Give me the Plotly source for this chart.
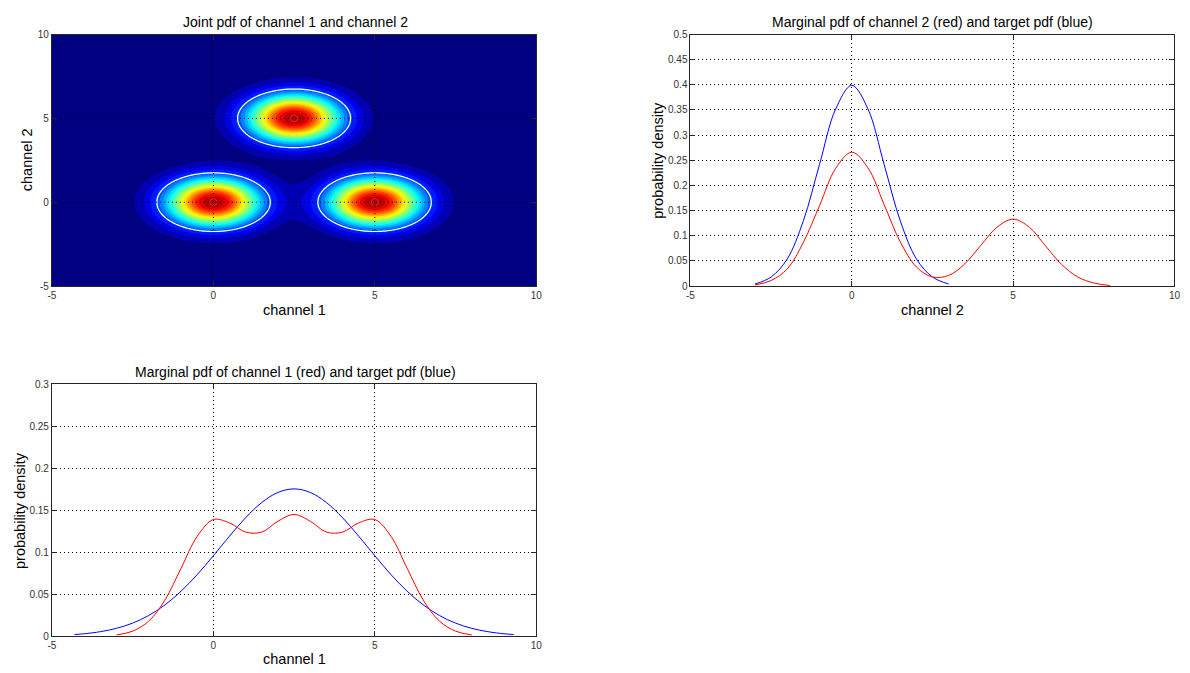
import numpy as np
import plotly.graph_objects as go

# ---------------- data ----------------
# joint pdf: three round bumps (centres, spread, weight)
comp_ch1 = [0.0, 5.0, 2.5]
comp_ch2 = [0.0, 0.0, 5.0]
comp_sd = [1.0, 1.0, 1.0]
comp_weight = [1 / 3, 1 / 3, 1 / 3]
n_bands = 20
white_level = 0.0115

# marginal pdf of channel 2 (red) and target (blue)
ch2_x = [-3.0, -2.5, -2.0, -1.5, -1.0, -0.5, 0.0, 0.5, 1.0, 1.5, 2.0, 2.5,
         3.0, 3.5, 4.0, 4.5, 5.0, 5.5, 6.0, 6.5, 7.0, 7.5, 8.0]
ch2_marg = [0.002, 0.011, 0.034, 0.087, 0.160, 0.234, 0.266, 0.235, 0.162, 0.088,
            0.038, 0.018, 0.021, 0.044, 0.081, 0.117, 0.133, 0.117, 0.080, 0.043,
            0.018, 0.006, 0.001]
ch2_tx = [-3.0, -2.5, -2.0, -1.5, -1.0, -0.5, 0.0, 0.5, 1.0, 1.5, 2.0, 2.5, 3.0]
ch2_target = [0.004, 0.018, 0.054, 0.130, 0.242, 0.352, 0.399, 0.352, 0.242,
              0.130, 0.054, 0.018, 0.004]

# marginal pdf of channel 1 (red) and target (blue)
ch1_x = [-3.0, -2.5, -2.0, -1.5, -1.0, -0.5, 0.0, 0.5, 1.0, 1.5, 2.0, 2.5,
         3.0, 3.5, 4.0, 4.5, 5.0, 5.5, 6.0, 6.5, 7.0, 7.5, 8.0]
ch1_marg = [0.0015, 0.006, 0.018, 0.043, 0.081, 0.119, 0.139, 0.135, 0.124, 0.124,
            0.137, 0.145, 0.137, 0.124, 0.124, 0.135, 0.139, 0.119, 0.081, 0.043,
            0.018, 0.006, 0.0015]
ch1_tx = [-4.3, -4.0, -3.5, -3.0, -2.5, -2.0, -1.5, -1.0, -0.5, 0.0, 0.5, 1.0,
          1.5, 2.0, 2.5, 3.0, 3.5, 4.0, 4.5, 5.0, 5.5, 6.0, 6.5, 7.0, 7.5, 8.0,
          8.5, 9.0, 9.3]
ch1_target = [0.002, 0.0029, 0.0054, 0.0094, 0.0156, 0.0247, 0.0373, 0.0536,
              0.0734, 0.0959, 0.1192, 0.1412, 0.1593, 0.1713, 0.1755, 0.1713,
              0.1593, 0.1412, 0.1192, 0.0959, 0.0734, 0.0536, 0.0373, 0.0247,
              0.0156, 0.0094, 0.0054, 0.0029, 0.002]

# ticks
xy_ticks = [-5, 0, 5, 10]
xy_labels = ["-5", "0", "5", "10"]
p2_yticks = [0, 0.05, 0.1, 0.15, 0.2, 0.25, 0.3, 0.35, 0.4, 0.45, 0.5]
p2_ylabels = ["0", "0.05", "0.1", "0.15", "0.2", "0.25", "0.3", "0.35", "0.4", "0.45", "0.5"]
p3_yticks = [0, 0.05, 0.1, 0.15, 0.2, 0.25, 0.3]
p3_ylabels = ["0", "0.05", "0.1", "0.15", "0.2", "0.25", "0.3"]

titles = ["Joint pdf of channel 1 and channel 2",
          "Marginal pdf of channel 2 (red) and target pdf (blue)",
          "Marginal pdf of channel 1 (red) and target pdf (blue)"]

# ---------------- build joint density grid ----------------
g = np.arange(-5.0, 10.0001, 0.05)
GX, GY = np.meshgrid(g, g)
Z = np.zeros_like(GX)
for cx, cy, sd, w in zip(comp_ch1, comp_ch2, comp_sd, comp_weight):
    Z += w / (2 * np.pi * sd * sd) * np.exp(-((GX - cx) ** 2 + (GY - cy) ** 2) / (2 * sd * sd))
zmax = float(Z.max())
step = zmax / n_bands


def jet(t):
    r = np.clip(1.5 - abs(4 * t - 3), 0, 1)
    gg = np.clip(1.5 - abs(4 * t - 2), 0, 1)
    b = np.clip(1.5 - abs(4 * t - 1), 0, 1)
    return "rgb(%d,%d,%d)" % (round(r * 255), round(gg * 255), round(b * 255))


# one colour per band: band k gets jet(k / n_bands), like MATLAB contourf
jet_scale = [[k / (n_bands - 1), jet(k / n_bands)] for k in range(n_bands)]

FONT = "Arial, Liberation Sans, Helvetica, sans-serif"

fig = go.Figure()

fig.add_trace(go.Contour(
    x=g, y=g, z=Z, xaxis="x", yaxis="y",
    contours=dict(start=step, end=step * (n_bands - 1) + step * 0.001, size=step, coloring="fill"),
    line=dict(width=0), colorscale=jet_scale, showscale=False, hoverinfo="skip",
))
fig.add_trace(go.Contour(
    x=g, y=g, z=Z, xaxis="x", yaxis="y",
    contours=dict(start=white_level, end=white_level, size=1, coloring="lines"),
    line=dict(width=1.2, color="white"), colorscale=[[0, "white"], [1, "white"]],
    showscale=False, hoverinfo="skip",
))
fig.add_trace(go.Scatter(
    x=comp_ch1, y=comp_ch2, mode="markers", xaxis="x", yaxis="y",
    marker=dict(symbol="circle-open", color="#ff2020", size=7, line=dict(width=1)),
    showlegend=False, hoverinfo="skip",
))

# dotted grid over the filled contour, built from the tick values
gx, gy = [], []
for v in xy_ticks[1:-1]:
    gx += [v, v, None]
    gy += [xy_ticks[0], xy_ticks[-1], None]
for v in xy_ticks[1:-1]:
    gx += [xy_ticks[0], xy_ticks[-1], None]
    gy += [v, v, None]
fig.add_trace(go.Scatter(x=gx, y=gy, mode="lines", xaxis="x", yaxis="y",
                         line=dict(color="#000", width=1, dash="1px,3px"),
                         showlegend=False, hoverinfo="skip"))

fig.add_trace(go.Scatter(x=ch2_tx, y=ch2_target, mode="lines", xaxis="x2", yaxis="y2",
                         line=dict(color="#0000ff", width=1, shape="spline"), showlegend=False))
fig.add_trace(go.Scatter(x=ch2_x, y=ch2_marg, mode="lines", xaxis="x2", yaxis="y2",
                         line=dict(color="#ff0000", width=1, shape="spline"), showlegend=False))
fig.add_trace(go.Scatter(x=ch1_tx, y=ch1_target, mode="lines", xaxis="x3", yaxis="y3",
                         line=dict(color="#0000ff", width=1, shape="spline"), showlegend=False))
fig.add_trace(go.Scatter(x=ch1_x, y=ch1_marg, mode="lines", xaxis="x3", yaxis="y3",
                         line=dict(color="#ff0000", width=1, shape="spline"), showlegend=False))

W, H = 1190, 673


def px_x(p):
    return p / W


def px_y(p):
    return 1 - p / H


d1x = [px_x(48.3), px_x(536.8)]
d2x = [px_x(692.3), px_x(1180.4)]
d1y = [px_y(285.7), px_y(30)]
d3y = [px_y(641.7), px_y(385.7)]

common = dict(showline=True, linecolor="#262626", linewidth=1, mirror="ticks",
              ticks="inside", ticklen=5, tickcolor="#262626", zeroline=False,
              tickfont=dict(family=FONT, size=10, color="#333"),
              gridcolor="#000", griddash="1px,3px", gridwidth=1)

fig.update_layout(
    width=W, height=H, margin=dict(l=0, r=0, t=0, b=0),
    paper_bgcolor="white", plot_bgcolor="white", showlegend=False,
    xaxis=dict(domain=d1x, range=[-5, 10], tickvals=xy_ticks, ticktext=xy_labels,
               showgrid=False, anchor="y", **common),
    yaxis=dict(domain=d1y, range=[-5, 10], tickvals=xy_ticks, ticktext=xy_labels,
               showgrid=False, anchor="x", **common),
    xaxis2=dict(domain=d2x, range=[-5, 10], tickvals=xy_ticks, ticktext=xy_labels,
                showgrid=True, anchor="y2", **common),
    yaxis2=dict(domain=d1y, range=[0, 0.5], tickvals=p2_yticks, ticktext=p2_ylabels,
                showgrid=True, anchor="x2", **common),
    xaxis3=dict(domain=d1x, range=[-5, 10], tickvals=xy_ticks, ticktext=xy_labels,
                showgrid=True, anchor="y3", **common),
    yaxis3=dict(domain=d3y, range=[0, 0.3], tickvals=p3_yticks, ticktext=p3_ylabels,
                showgrid=True, anchor="x3", **common),
)

ann = []


def txt(x, y, s, size, angle=0):
    ann.append(dict(x=x, y=y, xref="paper", yref="paper", text=s, showarrow=False,
                    xanchor="center", yanchor="middle", textangle=angle,
                    font=dict(family=FONT, size=size, color="#000")))


txt(px_x(293.5), px_y(17), titles[0], 14)
txt(px_x(936.4), px_y(17), titles[1], 14)
txt(px_x(293.5), px_y(373.3), titles[2], 14)
txt(px_x(292.5), px_y(309.7), "channel 1", 14.5)
txt(px_x(936.4), px_y(309.7), "channel 2", 14.5)
txt(px_x(292.5), px_y(665), "channel 1", 14.5)
txt(px_x(23.3), px_y(157.7), "channel 2", 14.5, -90)
txt(px_x(659.2), px_y(157.7), "probability density", 14.5, -90)
txt(px_x(16), px_y(513.5), "probability density", 14.5, -90)
fig.update_layout(annotations=ann)

fig.write_html("out.html")
